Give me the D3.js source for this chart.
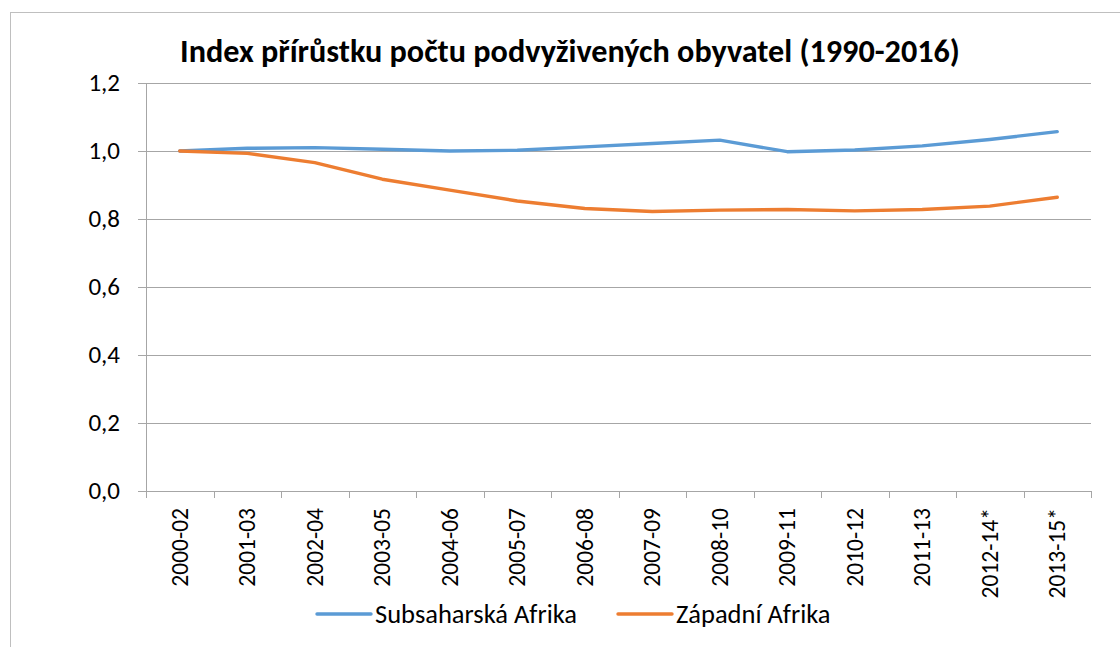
<!DOCTYPE html>
<html>
<head>
<meta charset="utf-8">
<script src="https://cdn.jsdelivr.net/npm/d3@7"></script>
<style>
  body { margin: 0; background: #fff; }
  svg { display: block; font-family: Carlito, Calibri, Lato, sans-serif; }
</style>
</head>
<body>
<div id="chart"></div>
<script>
const categories = ["2000-02", "2001-03", "2002-04", "2003-05", "2004-06", "2005-07", "2006-08",
    "2007-09", "2008-10", "2009-11", "2010-12", "2011-13", "2012-14*", "2013-15*"];
const subsaharska = [1.000, 1.008, 1.010, 1.005, 1.000, 1.002, 1.012, 1.022, 1.032, 0.998, 1.003, 1.015, 1.034, 1.057];
const zapadni = [1.000, 0.993, 0.966, 0.917, 0.885, 0.853, 0.831, 0.822, 0.826, 0.828, 0.824, 0.828, 0.838, 0.864];
const yTicks = [0, 0.2, 0.4, 0.6, 0.8, 1.0, 1.2];
const seriesNames = ["Subsaharská Afrika", "Západní Afrika"];
const colors = ["#5B9BD5", "#ED7D31"];

const W = 1120, H = 647;
let margin = {top: 83, right: 29, bottom: 156, left: 146},
    width = W - margin.left - margin.right,
    height = H - margin.top - margin.bottom;

let svg = d3.select("#chart").append("svg")
    .attr("width", W)
    .attr("height", H);

// chart frame
svg.append("rect")
    .attr("x", 10.5).attr("y", 12.5)
    .attr("width", W).attr("height", H)
    .attr("fill", "none")
    .attr("stroke", "#bfbfbf");

svg.append("text")
    .attr("x", 570)
    .attr("y", 62)
    .attr("text-anchor", "middle")
    .style("font-size", "32.2px")
    .style("font-weight", "bold")
    .text("Index přírůstku počtu podvyživených obyvatel (1990-2016)");

let g = svg.append("g").attr("transform", "translate(" + margin.left + "," + margin.top + ")");

let x = d3.scaleBand().domain(categories).range([0, width]);
let y = d3.scaleLinear().domain([0, 1.2]).range([height, 0]);

// gridlines
g.selectAll(".grid")
    .data(yTicks)
    .enter().append("line")
    .attr("x1", -8).attr("x2", width)
    .attr("y1", d => Math.round(y(d)) + 0.5)
    .attr("y2", d => Math.round(y(d)) + 0.5)
    .attr("stroke", "#a6a6a6")
    .attr("stroke-width", 1);

// y axis line
g.append("line")
    .attr("x1", 0.5).attr("x2", 0.5)
    .attr("y1", 0).attr("y2", height)
    .attr("stroke", "#a6a6a6");

g.selectAll(".ylab")
    .data(yTicks)
    .enter().append("text")
    .attr("x", -26)
    .attr("y", d => y(d) + 8)
    .attr("text-anchor", "end")
    .style("font-size", "25px")
    .text(d => d3.format(".1f")(d).replace(".", ","));

// x ticks
let bounds = categories.map(c => x(c)).concat([width]);
g.selectAll(".xtick")
    .data(bounds)
    .enter().append("line")
    .attr("x1", d => Math.round(d) + 0.5).attr("x2", d => Math.round(d) + 0.5)
    .attr("y1", height).attr("y2", height + 7)
    .attr("stroke", "#a6a6a6");

g.selectAll(".xlab")
    .data(categories)
    .enter().append("text")
    .attr("transform", d => "translate(" + (x(d) + x.bandwidth() / 2 + 8) + "," + (height + 17) + ") rotate(-90)")
    .attr("text-anchor", "end")
    .style("font-size", "23.5px")
    .text(d => d);

let line = d3.line()
    .x((d, i) => x(categories[i]) + x.bandwidth() / 2)
    .y(d => y(d));

[subsaharska, zapadni].forEach((s, k) => {
    g.append("path")
        .datum(s)
        .attr("d", line)
        .attr("fill", "none")
        .attr("stroke", colors[k])
        .attr("stroke-width", 3.4)
        .attr("stroke-linejoin", "round")
        .attr("stroke-linecap", "round");
});

// legend
let legendX = [317, 618];
seriesNames.forEach((n, k) => {
    svg.append("line")
        .attr("x1", legendX[k]).attr("x2", legendX[k] + 54)
        .attr("y1", 614).attr("y2", 614)
        .attr("stroke", colors[k])
        .attr("stroke-width", 3.4)
        .attr("stroke-linecap", "round");
    svg.append("text")
        .attr("x", legendX[k] + 58)
        .attr("y", 623)
        .style("font-size", "26.5px")
        .text(n);
});
</script>
</body>
</html>
